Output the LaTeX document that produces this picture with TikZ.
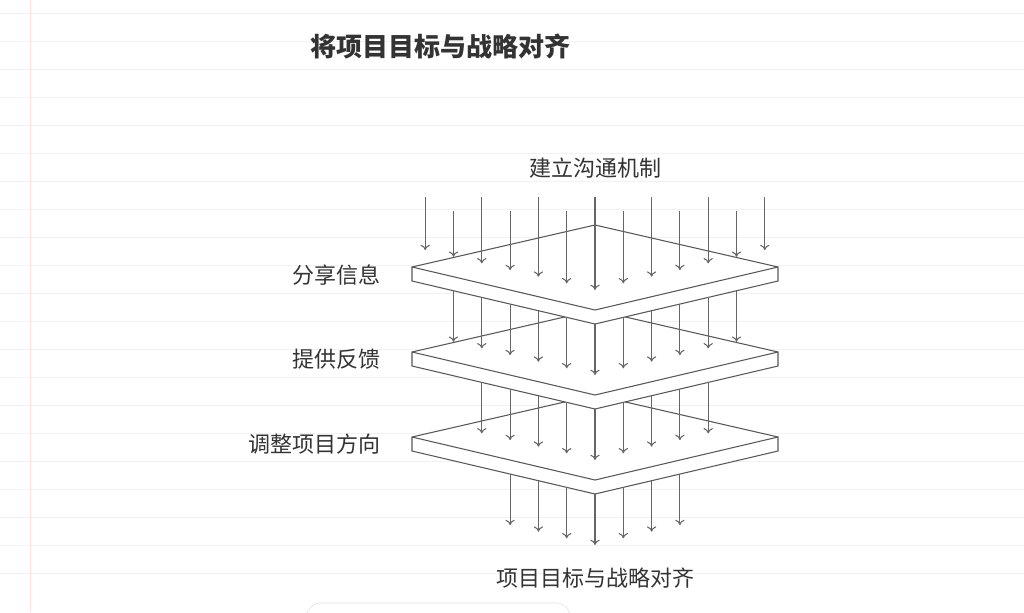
\documentclass[tikz,border=0pt]{standalone}
\usepackage{fontspec}
\usetikzlibrary{arrows.meta}
\newfontfamily\cjk{Noto Sans CJK SC}
\begin{document}
\begin{tikzpicture}[x=0.75pt,y=-0.75pt,
  plate/.style={draw=black!65,fill=white,line width=0.8pt,line join=miter},
  arr/.style={draw=black!60,line width=0.8pt,-{To[length=4pt,width=7pt]}},
  lbl/.style={font=\cjk\fontsize{16.5}{18}\selectfont,text=black!80,inner sep=0pt}]
\useasboundingbox (0,0) rectangle (1024,612);
\fill[white] (0,0) rectangle (1024,612);
\foreach \yy in {13,41,...,600} \draw[black!5,line width=0.6pt] (0,\yy) -- (1024,\yy);
\draw[red!12,line width=0.6pt] (30,0) -- (30,612);
\draw[black!12,fill=white,rounded corners=10pt] (307,620) -- (307,603) -- (570,603) -- (570,620);
\node[lbl,font=\cjk\bfseries\fontsize{19.5}{22}\selectfont,text=black!80] (title) at (440,47) {将项目目标与战略对齐};
% plates
\foreach \k/\o in {3/170,2/85,1/0}{
  \path[plate] (412,267+\o) -- (595,225+\o) -- (778,267+\o) -- (778,281+\o) -- (595,324+\o) -- (412,281+\o) -- cycle;
  \draw[plate,fill=none] (412,267+\o) -- (595,310+\o) -- (778,267+\o);
  \coordinate (p\k) at (595,310+\o);
}
% top arrows
\foreach \i in {-6,...,6}{
  \pgfmathsetmacro{\xx}{595+28.3*\i}
  \pgfmathsetmacro{\ys}{mod(abs(\i),2)==0 ? 197 : 211}
  \pgfmathsetmacro{\ye}{310-6.65*abs(\i)-20}
  \draw[arr] (\xx,\ys) -- (\xx,\ye);
}
\foreach \k/\n/\o in {1/5/0,2/4/85,3/3/170}{
  \foreach \i in {-\n,...,\n}{
    \pgfmathsetmacro{\xx}{595+28.3*\i}
    \pgfmathsetmacro{\ys}{310+\o-6.65*abs(\i)+14}
    \pgfmathsetmacro{\ye}{310+\o-6.65*abs(\i)+65}
    \draw[arr] (\xx,\ys) -- (\xx,\ye);
  }
}
\node[lbl] (top) at (595,168) {建立沟通机制};
\node[lbl,anchor=east] (l1) at (381,275) {分享信息};
\node[lbl,anchor=east] (l2) at (381,359) {提供反馈};
\node[lbl,anchor=east] (l3) at (381,444) {调整项目方向};
\node[lbl] (bot) at (595,578) {项目目标与战略对齐};
\end{tikzpicture}
\end{document}
